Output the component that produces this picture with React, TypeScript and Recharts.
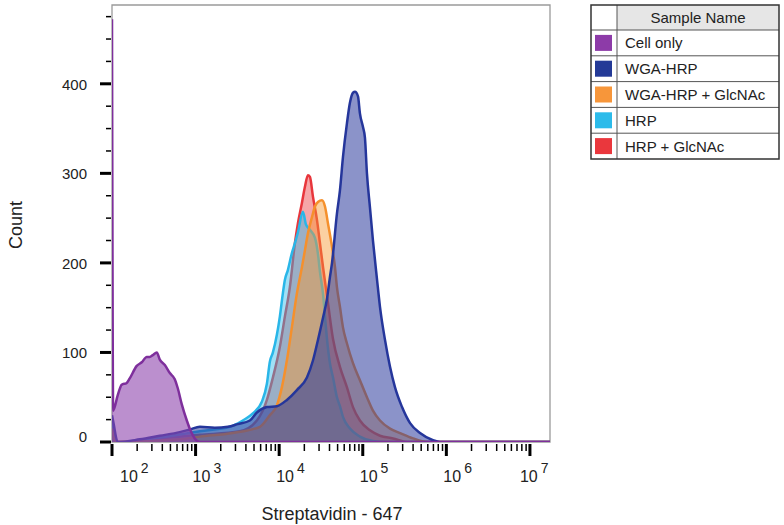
import React from 'react';
import { ComposedChart, Area, XAxis, YAxis, ReferenceArea } from 'recharts';

const FONT = 'Liberation Sans, Arial, Helvetica, sans-serif';

// x values are log10(Streptavidin - 647 intensity)
const cellOnlyX = [2.0, 2.014, 2.068, 2.116, 2.176, 2.212, 2.296, 2.356, 2.416, 2.451, 2.488, 2.536, 2.572, 2.632, 2.692, 2.751, 2.787, 2.835, 2.895, 2.943, 2.99, 3.051, 7.24];
const cellOnlyY = [472, 35, 52, 64, 66, 71, 85, 89, 95, 95, 97, 100, 92, 86, 77, 70, 60, 42, 24, 12, 4, 0, 0];

const wgaX = [2.0, 2.02, 2.068, 2.332, 2.572, 2.811, 2.931, 3.051, 3.23, 3.386, 3.505, 3.649, 3.733, 3.853, 3.973, 4.092, 4.212, 4.332, 4.404, 4.464, 4.525, 4.572, 4.607, 4.632, 4.691, 4.727, 4.763, 4.811, 4.847, 4.883, 4.907, 4.943, 4.966, 5.002, 5.026, 5.05, 5.086, 5.122, 5.17, 5.206, 5.266, 5.326, 5.386, 5.47, 5.566, 5.685, 5.841, 5.925, 7.24];
const wgaY = [30, 20, 0, 3, 7, 11, 14, 17, 16, 17, 20, 24, 33, 39, 40, 47, 58, 72, 91, 114, 139, 160, 184, 200, 255, 281, 318, 356, 379, 390, 391, 386, 367, 352, 340, 300, 262, 225, 182, 151, 114, 84, 61, 39, 21, 10, 2, 0, 0];

const wgaGlcX = [2.0, 2.044, 2.811, 3.051, 3.445, 3.769, 3.889, 3.973, 4.032, 4.092, 4.152, 4.212, 4.272, 4.308, 4.344, 4.392, 4.428, 4.464, 4.512, 4.548, 4.584, 4.632, 4.668, 4.691, 4.727, 4.763, 4.811, 4.883, 4.966, 5.05, 5.122, 5.206, 5.326, 5.446, 5.601, 5.769, 7.24];
const wgaGlcY = [15, 0, 3, 6, 10, 17, 30, 41, 61, 91, 128, 166, 195, 214, 233, 251, 263, 268, 270, 263, 244, 218, 195, 173, 151, 128, 110, 88, 69, 50, 35, 24, 15, 10, 4, 0, 0];

const hrpX = [2.0, 2.044, 2.572, 3.051, 3.41, 3.565, 3.685, 3.793, 3.853, 3.889, 3.925, 3.973, 4.008, 4.044, 4.068, 4.104, 4.152, 4.188, 4.224, 4.284, 4.32, 4.368, 4.428, 4.464, 4.488, 4.525, 4.548, 4.572, 4.607, 4.644, 4.691, 4.727, 4.763, 4.847, 4.966, 5.122, 5.266, 7.24];
const hrpY = [25, 0, 5, 12, 17, 24, 32, 45, 65, 90, 100, 120, 140, 166, 181, 192, 211, 222, 234, 257, 243, 237, 228, 210, 190, 165, 140, 115, 88, 72, 50, 40, 28, 15, 6, 1, 0, 0];

const hrpGlcX = [2.0, 2.044, 2.572, 3.051, 3.529, 3.733, 3.853, 3.925, 4.008, 4.068, 4.128, 4.188, 4.224, 4.272, 4.308, 4.344, 4.368, 4.404, 4.452, 4.488, 4.525, 4.584, 4.644, 4.727, 4.811, 4.883, 4.966, 5.086, 5.206, 5.362, 5.53, 7.24];
const hrpGlcY = [20, 0, 4, 8, 12, 24, 47, 72, 106, 140, 173, 222, 244, 267, 285, 298, 296, 274, 248, 222, 195, 155, 115, 84, 61, 39, 24, 13, 7, 4, 0, 0];

const sampleNames = ['Cell only', 'WGA-HRP', 'WGA-HRP + GlcNAc', 'HRP', 'HRP + GlcNAc'];
const strokeColors = ['#7e2f9c', '#25369b', '#f5902c', '#29b6e8', '#e8363c'];
const fillColors = ['#8e44ad', '#2b3a9c', '#f7962f', '#2cbbea', '#ea3a3e'];
const swatchColors = ['#8d3ba8', '#243a97', '#f7963a', '#2cbbea', '#ea373d'];

const xMajorExps = [2, 3, 4, 5, 6, 7];
const xMinorMultipliers = [2, 3, 4, 5, 6, 7, 8, 9];
const xDomain: [number, number] = [2, 7.24];
const yDomain: [number, number] = [0, 488];
const yTicks = [0, 25, 50, 75, 100, 125, 150, 175, 200, 225, 250, 275, 300, 325, 350, 375, 400, 425, 450, 475];
const yLabelTicks = [0, 100, 200, 300, 400];

const xTicks: number[] = [];
xMajorExps.forEach((e) => {
  xTicks.push(e);
  xMinorMultipliers.forEach((m) => {
    const v = e + Math.log10(m);
    if (v <= xDomain[1]) xTicks.push(v);
  });
});

const zip = (xs: number[], ys: number[]) => xs.map((x, i) => ({ x, y: ys[i] }));
const seriesData = [
  zip(cellOnlyX, cellOnlyY),
  zip(wgaX, wgaY),
  zip(wgaGlcX, wgaGlcY),
  zip(hrpX, hrpY),
  zip(hrpGlcX, hrpGlcY),
];
// draw order bottom -> top
const drawOrder = [4, 3, 2, 1, 0];
const fillOpacities = [0.6, 0.55, 0.45, 0.45, 0.45];

const XTick = (props: any) => {
  const { x, y, payload } = props;
  const v = payload.value as number;
  const exp = Math.round(v);
  const major = Math.abs(v - exp) < 1e-6;
  if (!major) {
    return <line x1={x} x2={x} y1={y + 2} y2={y + 9} stroke="#000" strokeWidth={1.5} />;
  }
  const dx = exp === 2 ? 8 : exp === 7 ? -10 : -3;
  return (
    <g>
      <line x1={x} x2={x} y1={y + 2} y2={y + 14} stroke="#000" strokeWidth={3} />
      <text x={x + dx} y={y + 40} fontSize={16} fill="#222" fontFamily={FONT} textAnchor="start">
        10
        <tspan dx={3} dy={-9} fontSize={14}>{exp}</tspan>
      </text>
    </g>
  );
};

const YTick = (props: any) => {
  const { x, y, payload } = props;
  const v = payload.value as number;
  const major = yLabelTicks.includes(v);
  if (!major) {
    return <line x1={x - 6} x2={x - 1} y1={y} y2={y} stroke="#000" strokeWidth={1.5} />;
  }
  return (
    <g>
      <line x1={x - 12} x2={x - 1} y1={y} y2={y} stroke="#000" strokeWidth={3} />
      <text x={x - 25} y={v === 0 ? y : y + 6} fontSize={15} fill="#222" fontFamily={FONT} textAnchor="end">
        {v}
      </text>
    </g>
  );
};

const rowTops = [30, 55.8, 81.6, 107.4, 133.2];
const rowH = 25.8;

export default function App() {
  return (
    <div style={{ position: 'absolute', left: 0, top: 0, width: 784, height: 525, background: '#fff' }}>
      <ComposedChart width={784} height={525} margin={{ top: 5, right: 234, bottom: 43, left: 52 }}>
        <XAxis
          dataKey="x"
          type="number"
          domain={xDomain}
          ticks={xTicks}
          interval={0}
          allowDataOverflow
          height={40}
          axisLine={false}
          tickLine={false}
          tickSize={0}
          tickMargin={0}
          tick={<XTick />}
        />
        <YAxis
          type="number"
          domain={yDomain}
          ticks={yTicks}
          interval={0}
          allowDataOverflow
          width={60}
          axisLine={false}
          tickLine={false}
          tickSize={0}
          tickMargin={0}
          tick={<YTick />}
        />
        <ReferenceArea x1={xDomain[0]} x2={xDomain[1]} y1={yDomain[0]} y2={yDomain[1]} fill="#fff" fillOpacity={0} stroke="#9a9a9a" strokeWidth={1.3} ifOverflow="visible" />
        {drawOrder.map((i) => (
          <Area
            key={sampleNames[i]}
            data={seriesData[i]}
            dataKey="y"
            name={sampleNames[i]}
            type="monotoneX"
            stroke={strokeColors[i]}
            strokeWidth={2.5}
            fill={fillColors[i]}
            fillOpacity={fillOpacities[i]}
            dot={false}
            activeDot={false}
            isAnimationActive={false}
          />
        ))}
      </ComposedChart>
      <svg width={784} height={525} style={{ position: 'absolute', left: 0, top: 0, pointerEvents: 'none' }}>
        <text x={332} y={520} fontSize={18} fill="#222" fontFamily={FONT} textAnchor="middle">
          Streptavidin - 647
        </text>
        <text transform="translate(22,225) rotate(-90)" fontSize={18} fill="#222" fontFamily={FONT} textAnchor="middle">
          Count
        </text>
        <rect x={591} y={5} width={188} height={154} fill="#fff" />
        <rect x={617} y={5} width={162} height={25} fill="#e6e6e6" />
        {rowTops.map((t) => (
          <line key={t} x1={591} x2={779} y1={t} y2={t} stroke="#555" strokeWidth={1} />
        ))}
        <line x1={617} x2={617} y1={5} y2={159} stroke="#555" strokeWidth={1} />
        <rect x={591} y={5} width={188} height={154} fill="none" stroke="#333" strokeWidth={1.5} />
        <text x={698} y={23} fontSize={15} fill="#222" fontFamily={FONT} textAnchor="middle">
          Sample Name
        </text>
        {sampleNames.map((n, i) => (
          <g key={n}>
            <rect x={595} y={rowTops[i] + rowH / 2 - 8} width={17} height={16} fill={swatchColors[i]} />
            <text x={625} y={rowTops[i] + rowH / 2 + 5.5} fontSize={15} fill="#222" fontFamily={FONT}>
              {n}
            </text>
          </g>
        ))}
      </svg>
    </div>
  );
}
